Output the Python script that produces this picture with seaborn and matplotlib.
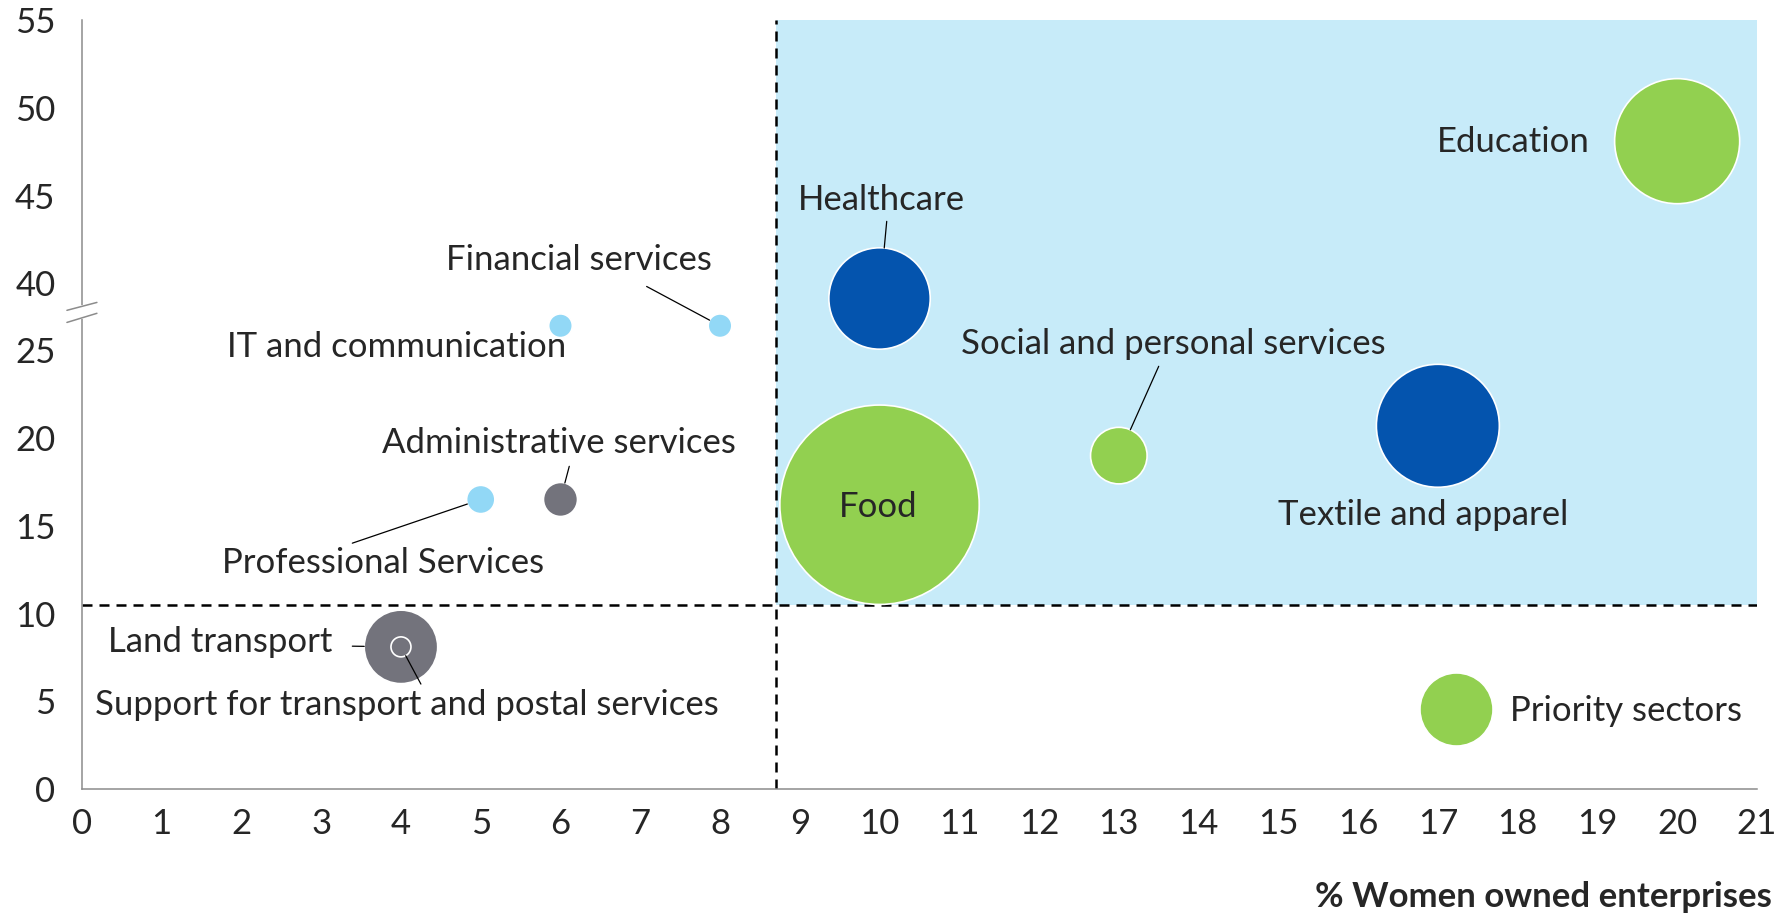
import matplotlib
matplotlib.use("Agg")
import matplotlib.pyplot as plt
import seaborn as sns
import pandas as pd
import numpy as np
from matplotlib.lines import Line2D

# data
sectors = ["IT and communication", "Financial services", "Professional Services",
           "Administrative services", "Land transport",
           "Support for transport and postal services", "Healthcare",
           "Textile and apparel", "Food", "Social and personal services", "Education"]
women_owned = [6, 8, 5, 6, 4, 4, 10, 17, 10, 13, 20]
y_value = [30.5, 30.5, 16.5, 16.5, 8.1, 8.1, 36.6, 20.7, 16.2, 19.0, 48.1]
bubble_size = [1.4, 1.4, 2.0, 2.9, 13.5, 1.0, 25.7, 37.8, 99.4, 8.0, 39.1]
group = ["light", "light", "light", "grey", "grey", "grey",
         "dark", "dark", "priority", "priority", "priority"]

x_ticks = list(range(0, 22))
y_ticks = [0, 5, 10, 15, 20, 25, 40, 45, 50, 55]
x_cut = 8.7
y_cut = 10.5
x_label = "% Women owned enterprises"
legend_label = "Priority sectors"

colors = {"light": "#92D8F6", "grey": "#73737C", "dark": "#0454AE", "priority": "#92D050"}

# broken y axis: 25..40 squeezed into a short gap
GAP = 3.82


def squash(v):
    v = np.asarray(v, dtype=float)
    return np.where(v <= 25, v, np.where(v < 40, 25 + (v - 25) * GAP / 15, v - 40 + 25 + GAP))


df = pd.DataFrame({"sector": sectors, "x": women_owned, "y": squash(y_value),
                   "size": bubble_size, "group": group})

sns.set_style("white")
plt.rcParams["font.family"] = ["Lato", "DejaVu Sans"]
FS = 25

fig = plt.figure(figsize=(17.77, 9.13), dpi=100)
ax = fig.add_axes([0.0461, 0.1358, 0.9426, 0.8422])

top = float(squash(55))
ax.set_xlim(0, 21)
ax.set_ylim(0, top)

# highlighted quadrant + threshold lines
ax.fill_between([x_cut, 21], y_cut, top, color="#C7EBF9", zorder=0, lw=0)
ax.axvline(x_cut, color="black", lw=1.8, ls=(0, (4, 2.8)), zorder=1)
ax.axhline(y_cut, color="black", lw=1.8, ls=(0, (4, 2.8)), zorder=1)

k = 207.36  # pt^2 per size unit
smin, smax = min(bubble_size), max(bubble_size)
sns.scatterplot(data=df, x="x", y="y", hue="group", palette=colors, size="size",
                sizes=(k * smin, k * smax), size_norm=(smin, smax),
                edgecolor="white", linewidth=1.2, alpha=1, legend=False, ax=ax, zorder=3)

# labels: (x, y on plotted scale, leader start or None)
labels = {
    "Financial services": (6.23, 30.13, (7.08, 28.64)),
    "IT and communication": (3.95, 25.17, None),
    "Administrative services": (5.98, 19.70, (6.11, 18.39)),
    "Professional Services": (3.77, 12.87, (3.39, 14.01)),
    "Healthcare": (10.02, 33.54, (10.09, 32.35)),
    "Social and personal services": (13.68, 25.34, (13.50, 24.09)),
    "Food": (9.98, 16.06, None),
    "Textile and apparel": (16.81, 15.60, None),
    "Education": (17.94, 36.85, None),
    "Land transport": (1.73, 8.37, (3.39, 8.14)),
    "Support for transport and postal services": (4.07, 4.78, (4.25, 5.98)),
}
for _, row in df.iterrows():
    tx, ty, lead = labels[row["sector"]]
    ax.text(tx, ty, row["sector"], fontsize=FS, ha="center", va="center", zorder=5)
    if lead is not None:
        r_pt = 7.2 * np.sqrt(row["size"])
        ax.annotate("", xy=(row["x"], row["y"]), xytext=lead,
                    arrowprops=dict(arrowstyle="-", color="black", lw=0.9,
                                    shrinkA=0, shrinkB=r_pt), zorder=4)

# axes styling
sns.despine(ax=ax)
for s in ["left", "bottom"]:
    ax.spines[s].set_color("#8C8C8C")
    ax.spines[s].set_linewidth(1.1)
ax.set_xticks(x_ticks)
ax.set_xticklabels([str(t) for t in x_ticks])
ax.set_yticks(squash(y_ticks))
ax.set_yticklabels([str(t) for t in y_ticks])
ax.tick_params(axis="both", length=0, labelsize=FS)
ax.tick_params(axis="x", pad=14)
ax.tick_params(axis="y", pad=19)
ax.set_xlabel(x_label, fontsize=FS, fontweight="bold")
ax.xaxis.set_label_coords(1.009, -0.140)
ax.xaxis.label.set_ha("right")
ax.xaxis.label.set_va("center")
ax.set_ylabel("")

# break marks on the y axis
ax.plot([0, 0], [26.9, 27.45], color="white", lw=3, clip_on=False, zorder=6)
ax.plot([-0.188, 0.188], [27.28, 27.73], color="#8C8C8C", lw=1.1, clip_on=False, zorder=7)
ax.plot([-0.188, 0.188], [26.59, 27.11], color="#8C8C8C", lw=1.1, clip_on=False, zorder=7)

# legend bubble
handle = Line2D([], [], marker="o", ls="", markersize=50.4,
                color=colors["priority"], markeredgecolor=colors["priority"])
ax.legend(handles=[handle], labels=[legend_label], loc="center left",
          bbox_to_anchor=(0.789, 0.1014), frameon=False, fontsize=FS,
          borderpad=0, handlelength=2.02, handletextpad=0.55)

fig.savefig("out.png", dpi=100)
